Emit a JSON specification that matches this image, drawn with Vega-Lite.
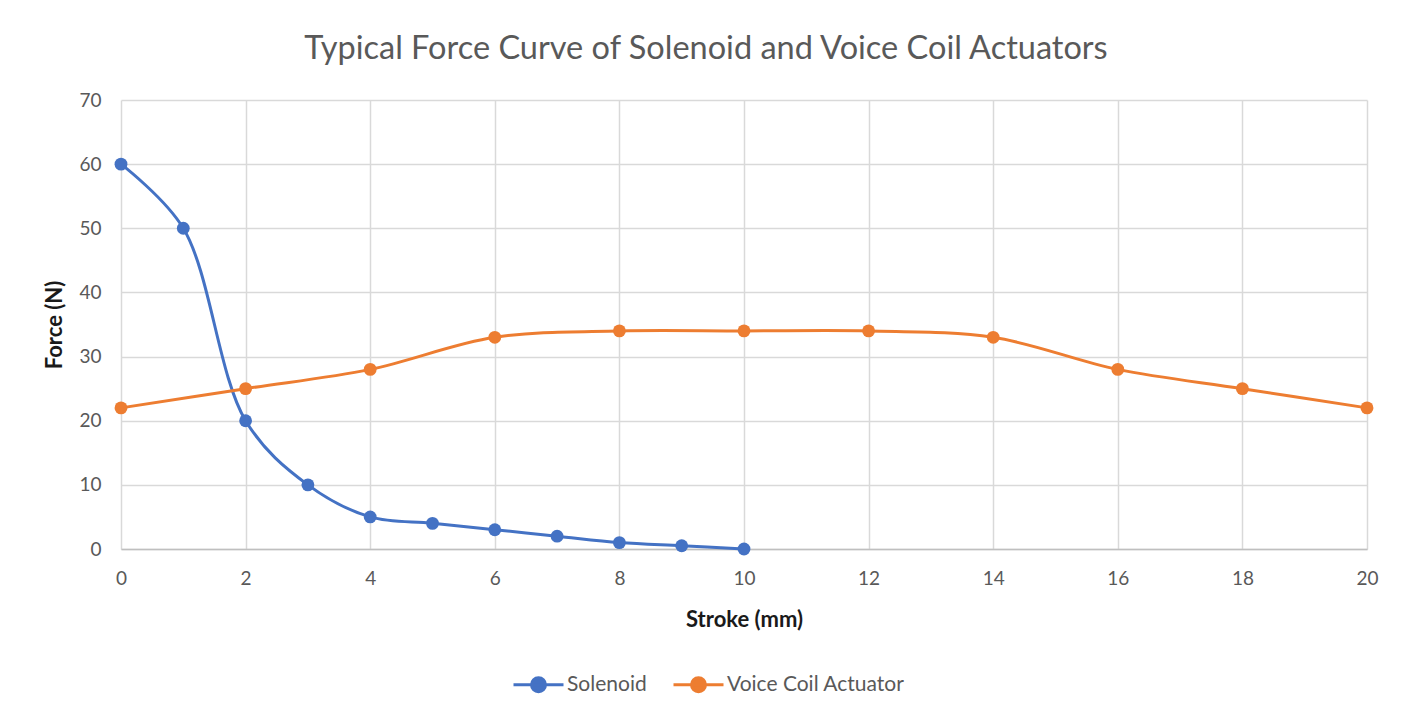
{
  "$schema": "https://vega.github.io/schema/vega-lite/v6.json",
  "autosize": {"type": "none"},
  "width": 1246,
  "height": 449,
  "padding": {"left": 121, "top": 100, "right": 48, "bottom": 169},
  "background": "white",
  "title": {
    "text": "Typical Force Curve of Solenoid and Voice Coil Actuators",
    "anchor": "middle",
    "dx": -38,
    "offset": 26,
    "font": "Lato",
    "fontSize": 32.5,
    "fontWeight": "normal",
    "color": "#595959"
  },
  "data": {
    "values": [
      {"series": "Solenoid", "stroke": 0, "force": 60},
      {"series": "Solenoid", "stroke": 1, "force": 50},
      {"series": "Solenoid", "stroke": 2, "force": 20},
      {"series": "Solenoid", "stroke": 3, "force": 10},
      {"series": "Solenoid", "stroke": 4, "force": 5},
      {"series": "Solenoid", "stroke": 5, "force": 4},
      {"series": "Solenoid", "stroke": 6, "force": 3},
      {"series": "Solenoid", "stroke": 7, "force": 2},
      {"series": "Solenoid", "stroke": 8, "force": 1},
      {"series": "Solenoid", "stroke": 9, "force": 0.5},
      {"series": "Solenoid", "stroke": 10, "force": 0},
      {"series": "Voice Coil Actuator", "stroke": 0, "force": 22},
      {"series": "Voice Coil Actuator", "stroke": 2, "force": 25},
      {"series": "Voice Coil Actuator", "stroke": 4, "force": 28},
      {"series": "Voice Coil Actuator", "stroke": 6, "force": 33},
      {"series": "Voice Coil Actuator", "stroke": 8, "force": 34},
      {"series": "Voice Coil Actuator", "stroke": 10, "force": 34},
      {"series": "Voice Coil Actuator", "stroke": 12, "force": 34},
      {"series": "Voice Coil Actuator", "stroke": 14, "force": 33},
      {"series": "Voice Coil Actuator", "stroke": 16, "force": 28},
      {"series": "Voice Coil Actuator", "stroke": 18, "force": 25},
      {"series": "Voice Coil Actuator", "stroke": 20, "force": 22}
    ]
  },
  "encoding": {
    "x": {
      "field": "stroke",
      "type": "quantitative",
      "title": "Stroke (mm)",
      "scale": {"domain": [0, 20], "nice": false},
      "axis": {
        "values": [0, 2, 4, 6, 8, 10, 12, 14, 16, 18, 20],
        "domain": true,
        "domainColor": "#BFBFBF",
        "domainWidth": 1.5,
        "ticks": false,
        "labelFlush": false,
        "labelPadding": 20,
        "titlePadding": 21
      }
    },
    "y": {
      "field": "force",
      "type": "quantitative",
      "title": "Force (N)",
      "scale": {"domain": [0, 70], "nice": false},
      "axis": {
        "values": [0, 10, 20, 30, 40, 50, 60, 70],
        "domain": false,
        "ticks": false,
        "labelFlush": false,
        "labelPadding": 20,
        "titlePadding": 12
      }
    },
    "color": {
      "field": "series",
      "type": "nominal",
      "title": null,
      "scale": {
        "domain": ["Solenoid", "Voice Coil Actuator"],
        "range": ["#4472C4", "#ED7D31"]
      },
      "legend": {
        "orient": "none",
        "direction": "horizontal",
        "legendX": 391,
        "legendY": 558,
        "symbolType": "M-1,0L1,0M0.28,0A0.28,0.28,0,1,1,-0.28,0A0.28,0.28,0,1,1,0.28,0",
        "symbolSize": 2500,
        "symbolStrokeWidth": 3,
        "columnPadding": 20,
        "labelOffset": 2,
        "labelLimit": 400,
        "encode": {
          "symbols": {
            "update": {
              "fill": {"scale": "color", "field": "value"},
              "stroke": {"scale": "color", "field": "value"},
              "fillOpacity": {"value": 1},
              "strokeOpacity": {"value": 1}
            }
          }
        }
      }
    }
  },
  "layer": [
    {
      "mark": {"type": "line", "interpolate": "catmull-rom", "strokeWidth": 3}
    },
    {
      "mark": {"type": "point", "filled": true, "size": 165, "opacity": 1}
    }
  ],
  "config": {
    "view": {"stroke": null},
    "font": "Lato",
    "axis": {
      "gridColor": "#D9D9D9",
      "gridWidth": 1.5,
      "labelFont": "Lato",
      "labelFontSize": 19,
      "labelColor": "#595959",
      "titleFont": "Lato",
      "titleFontSize": 22,
      "titleFontWeight": "bold",
      "titleColor": "#1a1a1a"
    },
    "legend": {
      "labelFont": "Lato",
      "labelFontSize": 21,
      "labelColor": "#595959"
    }
  }
}
